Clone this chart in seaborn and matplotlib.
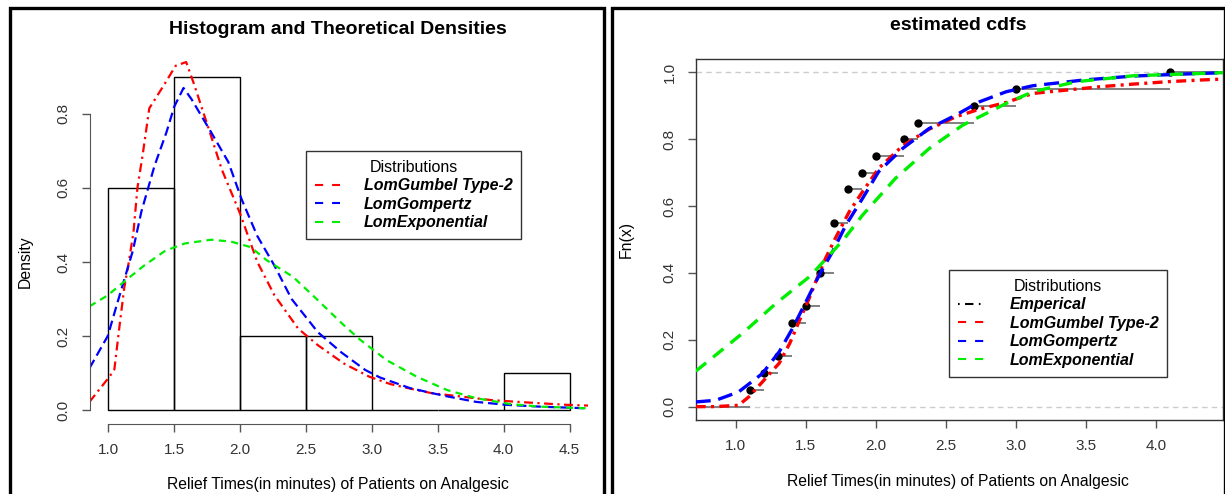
import numpy as np
import matplotlib
matplotlib.use("Agg")
import matplotlib.pyplot as plt
import seaborn as sns
from matplotlib.lines import Line2D
from matplotlib.patches import Rectangle

# relief times (minutes) of patients receiving an analgesic
relief_times = [1.1, 1.4, 1.3, 1.7, 1.9, 1.8, 1.6, 2.2, 1.7, 2.7,
                4.1, 1.8, 1.5, 1.2, 1.4, 3.0, 1.7, 2.3, 1.6, 2.0]
hist_breaks = [1.0, 1.5, 2.0, 2.5, 3.0, 3.5, 4.0, 4.5]

dist_names = ["LomGumbel Type-2", "LomGompertz", "LomExponential"]
dist_colors = ["#ff0000", "#0000ff", "#00ee00"]

# fitted densities
gumbel_pdf_x = [0.856, 1.008, 1.045, 1.085, 1.12, 1.15, 1.19, 1.22, 1.26, 1.31, 1.425,
                1.51, 1.59, 1.65, 1.77, 1.86, 2.0, 2.13, 2.26, 2.44, 2.59, 2.79,
                2.98, 3.14, 3.30, 3.46, 3.64, 3.90, 4.15, 4.48, 4.64]
gumbel_pdf_y = [0.022, 0.09, 0.11, 0.23, 0.33, 0.39, 0.48, 0.60, 0.69, 0.815, 0.88,
                0.93, 0.94, 0.88, 0.75, 0.65, 0.53, 0.40, 0.31, 0.22, 0.175, 0.125,
                0.09, 0.07, 0.057, 0.045, 0.038, 0.027, 0.021, 0.014, 0.012]
gompertz_pdf_x = [0.856, 0.995, 1.06, 1.11, 1.185, 1.25, 1.35, 1.44, 1.50, 1.57, 1.63,
                  1.78, 1.91, 2.01, 2.13, 2.26, 2.39, 2.59, 2.77, 2.95, 3.06, 3.29,
                  3.54, 3.79, 4.02, 4.28, 4.64]
gompertz_pdf_y = [0.113, 0.20, 0.28, 0.34, 0.43, 0.536, 0.66, 0.75, 0.82, 0.87, 0.84,
                  0.75, 0.67, 0.57, 0.47, 0.39, 0.30, 0.21, 0.155, 0.108, 0.088, 0.059,
                  0.039, 0.022, 0.014, 0.009, 0.0045]
expo_pdf_x = [0.856, 0.995, 1.12, 1.27, 1.43, 1.58, 1.78, 1.93, 2.08, 2.2, 2.4, 2.55,
              2.79, 2.91, 3.11, 3.34, 3.57, 3.79, 4.05, 4.28, 4.64]
expo_pdf_y = [0.28, 0.31, 0.347, 0.39, 0.43, 0.45, 0.46, 0.455, 0.44, 0.405, 0.36, 0.31,
              0.228, 0.19, 0.135, 0.09, 0.054, 0.032, 0.016, 0.009, 0.0045]

# fitted cdfs
gumbel_cdf_x = [0.714, 0.85, 1.02, 1.095, 1.19, 1.31, 1.386, 1.457, 1.53, 1.57, 1.64,
                1.71, 1.81, 1.905, 2.02, 2.19, 2.38, 2.57, 2.74, 2.93, 3.12, 3.36,
                3.6, 3.84, 4.08, 4.31, 4.48]
gumbel_cdf_y = [0.0, 0.0, 0.004, 0.03, 0.074, 0.13, 0.19, 0.26, 0.33, 0.373, 0.443,
                0.503, 0.583, 0.643, 0.713, 0.78, 0.83, 0.867, 0.89, 0.91, 0.937, 0.947,
                0.957, 0.965, 0.972, 0.977, 0.98]
gompertz_cdf_x = [0.714, 0.857, 1.02, 1.19, 1.31, 1.405, 1.50, 1.595, 1.69, 1.786, 1.905,
                  2.02, 2.19, 2.38, 2.57, 2.74, 2.93, 3.12, 3.48, 3.84, 4.2, 4.48]
gompertz_cdf_y = [0.014, 0.019, 0.044, 0.099, 0.164, 0.234, 0.313, 0.393, 0.463, 0.543, 0.623,
                  0.703, 0.772, 0.832, 0.872, 0.912, 0.942, 0.96, 0.977, 0.989, 0.995, 0.999]
expo_cdf_x = [0.714, 1.05, 1.29, 1.53, 1.77, 1.905, 2.14, 2.38, 2.62, 2.93, 3.12, 3.43,
              3.84, 4.2, 4.48]
expo_cdf_y = [0.106, 0.22, 0.31, 0.39, 0.50, 0.573, 0.683, 0.772, 0.842, 0.907, 0.942, 0.972,
              0.99, 0.995, 0.999]

plt.rcParams["font.family"] = ["Liberation Sans", "DejaVu Sans"]
W, H = 1225, 494
fig = plt.figure(figsize=(W / 100, H / 100), dpi=100)

# panel frames
fig.add_artist(Rectangle((9.5 / W, -0.1), 594.5 / W, 1.1 - 8.5 / H, transform=fig.transFigure,
                         fill=False, ec="black", lw=2.4))
fig.add_artist(Rectangle((612 / W, -0.1), 0.5, 1.1 - 8.5 / H, transform=fig.transFigure,
                         fill=False, ec="black", lw=2.4))

tick_kw = dict(length=6, width=1, color="#555555", labelcolor="#333333", labelsize=11, pad=8)
leg_kw = dict(title="Distributions", loc="upper left", bbox_transform=fig.transFigure,
              fancybox=False, framealpha=1, edgecolor="#333333", borderaxespad=0,
              prop=dict(weight="bold", style="italic", size=11.5), title_fontsize=11.5,
              labelspacing=0.22, borderpad=0.55)

# ---- left: histogram and densities
ax1 = fig.add_axes([90 / W, 70 / H, 498 / W, 376 / H])
sns.histplot(x=relief_times, bins=np.array(hist_breaks) + 1e-9, stat="density",
             fill=False, color="black", linewidth=1, ax=ax1)
pdf_sets = [(gumbel_pdf_x, gumbel_pdf_y, (0, (4, 2, 1, 2))),
            (gompertz_pdf_x, gompertz_pdf_y, (0, (4.3, 2.2))),
            (expo_pdf_x, expo_pdf_y, (0, (3.2, 2.4)))]
for (xs, ys, ls), col in zip(pdf_sets, dist_colors):
    sns.lineplot(x=xs, y=ys, color=col, lw=1.6, linestyle=ls, sort=False,
                 estimator=None, ax=ax1)
ax1.set_xlim(0.86, 4.64)
ax1.set_ylim(-0.0378, 0.978)
ax1.set_xticks(hist_breaks)
ax1.set_yticks([0.0, 0.2, 0.4, 0.6, 0.8])
ax1.xaxis.set_major_formatter(plt.FormatStrFormatter("%.1f"))
ax1.yaxis.set_major_formatter(plt.FormatStrFormatter("%.1f"))
ax1.tick_params(**tick_kw)
ax1.tick_params(axis="y", labelrotation=90)
for lab in ax1.get_yticklabels():
    lab.set_va("center")
for s in ["top", "right"]:
    ax1.spines[s].set_visible(False)
ax1.spines["left"].set_bounds(0, 0.8)
ax1.spines["bottom"].set_bounds(1.0, 4.5)
for s in ["left", "bottom"]:
    ax1.spines[s].set_color("#555555")
ax1.set_ylabel("Density", fontsize=11.3)
ax1.yaxis.set_label_coords(33 / W, 1 - 262 / H, transform=fig.transFigure)
ax1.set_xlabel("Relief Times(in minutes) of Patients on Analgesic", fontsize=11.3)
ax1.xaxis.set_label_coords(338 / W, 1 - 477 / H, transform=fig.transFigure)
fig.text(338 / W, 1 - 29 / H, "Histogram and Theoretical Densities", ha="center",
         va="center", fontsize=14, fontweight="bold")

handles = [Line2D([], [], color=c, lw=1.5, linestyle=(0, (3.9, 4.3))) for c in dist_colors]
leg1 = ax1.legend(handles, dist_names, bbox_to_anchor=(306 / W, 1 - 151 / H),
                  handlelength=1.56, handletextpad=1.5, **leg_kw)
leg1.get_frame().set_linewidth(1)

# ---- right: empirical and fitted cdfs
ax2 = fig.add_axes([696 / W, 74 / H, 527 / W, 361 / H])
ax2.axhline(0, color="#cccccc", lw=1, linestyle=(0, (4, 3)), zorder=0)
ax2.axhline(1, color="#cccccc", lw=1, linestyle=(0, (4, 3)), zorder=0)
knots, counts = np.unique(relief_times, return_counts=True)
fn = np.cumsum(counts) / len(relief_times)
seg_start = np.concatenate([[-10], knots])
seg_end = np.concatenate([knots, [10]])
ax2.hlines(np.concatenate([[0], fn]), seg_start, seg_end, color="#808080", lw=1.4, zorder=1)
sns.scatterplot(x=knots, y=fn, color="black", s=36, edgecolor="black", linewidth=0,
                zorder=2, ax=ax2)
cdf_sets = [(gumbel_cdf_x, gumbel_cdf_y, (0, (3, 1.6, 0.9, 1.6))),
            (gompertz_cdf_x, gompertz_cdf_y, (0, (4.5, 2.3))),
            (expo_cdf_x, expo_cdf_y, (0, (4, 2.7)))]
for (xs, ys, ls), col in zip(cdf_sets, dist_colors):
    sns.lineplot(x=xs, y=ys, color=col, lw=2.4, linestyle=ls, sort=False,
                 estimator=None, ax=ax2, zorder=3)
ax2.set_xlim(0.716, 4.478)
ax2.set_ylim(-0.04, 1.04)
ax2.set_xticks([1.0, 1.5, 2.0, 2.5, 3.0, 3.5, 4.0])
ax2.set_yticks([0.0, 0.2, 0.4, 0.6, 0.8, 1.0])
ax2.xaxis.set_major_formatter(plt.FormatStrFormatter("%.1f"))
ax2.yaxis.set_major_formatter(plt.FormatStrFormatter("%.1f"))
ax2.tick_params(**tick_kw)
ax2.tick_params(axis="y", labelrotation=90)
for lab in ax2.get_yticklabels():
    lab.set_va("center")
for s in ax2.spines.values():
    s.set_color("#333333")
    s.set_linewidth(1)
ax2.set_ylabel("Fn(x)", fontsize=11.3)
ax2.yaxis.set_label_coords(634 / W, 1 - 240 / H, transform=fig.transFigure)
ax2.set_xlabel("Relief Times(in minutes) of Patients on Analgesic", fontsize=11.3)
ax2.xaxis.set_label_coords(958 / W, 1 - 474 / H, transform=fig.transFigure)
fig.text(958 / W, 1 - 25 / H, "estimated cdfs", ha="center", va="center",
         fontsize=14, fontweight="bold")

handles2 = [Line2D([], [], color="black", lw=1.5, linestyle=(0, (0.8, 2.6, 4, 2.6)))]
handles2 += [Line2D([], [], color=c, lw=1.5, linestyle=(0, (3.9, 4.3))) for c in dist_colors]
leg2 = ax2.legend(handles2, ["Emperical"] + dist_names, bbox_to_anchor=(949 / W, 1 - 270 / H),
                  handlelength=1.7, handletextpad=1.55, **leg_kw)
leg2.get_frame().set_linewidth(1)

fig.savefig("out.png", dpi=100)
